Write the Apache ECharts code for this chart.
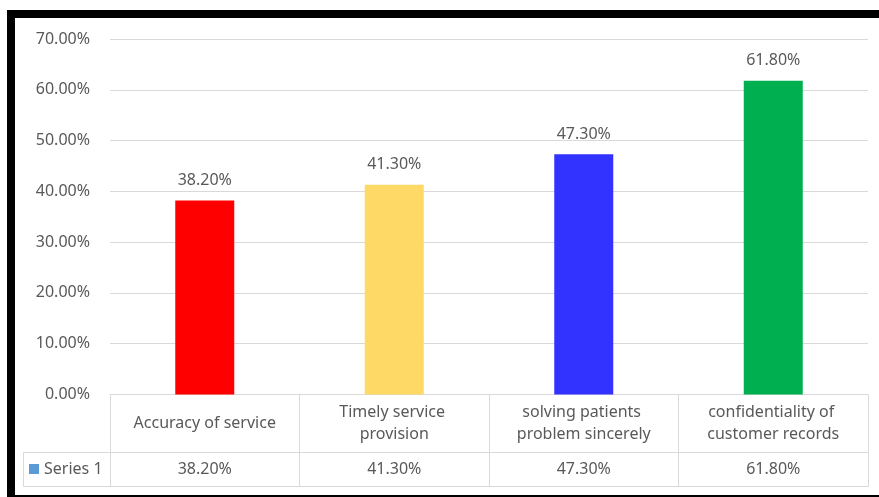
<!DOCTYPE html>
<html>
<head>
<meta charset="utf-8">
<script src="https://cdn.jsdelivr.net/npm/echarts@6/dist/echarts.min.js"></script>
<style>
  html, body { margin: 0; padding: 0; background: #fff; }
  #chart { width: 879px; height: 497px; }
</style>
</head>
<body>
<div id="chart"></div>
<script>
// data
var categories = ['Accuracy of service', 'Timely service provision', 'solving patients problem sincerely', 'confidentiality of customer records'];
var values = [38.2, 41.3, 47.3, 61.8];
var barColors = ['#ff0000', '#ffd966', '#3333ff', '#00b050'];
var seriesName = 'Series 1';
var yTicks = { min: 0, max: 70, interval: 10 };

var pct = function (v) { return v.toFixed(2) + '%'; };
var txt = '#595959';
var lineCol = '#d9d9d9';
var font = 'Noto Sans';

var chart = echarts.init(document.getElementById('chart'));

var option = {
    backgroundColor: '#fff',
    textStyle: { fontFamily: font },
    grid: { left: 110, right: 11, top: 39, bottom: 102.5 },
    legend: {
        left: 29, top: 461, padding: 0,
        icon: 'rect', itemWidth: 10, itemHeight: 10, itemGap: 5,
        textStyle: { color: txt, fontSize: 16, fontFamily: font },
        data: [seriesName]
    },
    xAxis: [{
        type: 'category',
        data: categories,
        axisLine: { lineStyle: { color: lineCol } },
        axisTick: { show: true, interval: 0, length: 92, lineStyle: { color: lineCol } },
        axisLabel: {
            interval: 0,
            color: txt, fontSize: 16, fontFamily: font,
            margin: 29, verticalAlign: 'middle',
            width: 165, overflow: 'break', lineHeight: 22
        }
    }, {
        // second table row: the values
        type: 'category',
        position: 'bottom',
        offset: 58,
        data: values.map(pct),
        axisLine: { show: false },
        axisTick: { show: false },
        axisLabel: { interval: 0, color: txt, fontSize: 16, fontFamily: font, margin: 17, verticalAlign: 'middle' }
    }],
    yAxis: {
        type: 'value',
        min: yTicks.min, max: yTicks.max, interval: yTicks.interval,
        axisLine: { show: false },
        axisTick: { show: false },
        splitLine: { lineStyle: { color: lineCol } },
        axisLabel: { color: txt, fontSize: 16, fontFamily: font, margin: 20, formatter: pct }
    },
    series: [{
        name: seriesName,
        type: 'bar',
        xAxisIndex: 0,
        barWidth: 59,
        itemStyle: { color: '#5b9bd5' },
        label: {
            show: true, position: 'top', distance: 12,
            color: txt, fontSize: 16, fontFamily: font,
            formatter: function (p) { return pct(p.value); }
        },
        data: values.map(function (v, i) {
            return { value: v, itemStyle: { color: barColors[i] } };
        })
    }],
    graphic: [
        // table outline for the series row
        { type: 'rect', z: 10, shape: { x: 23.5, y: 452.5, width: 845, height: 34 },
          style: { fill: 'none', stroke: lineCol, lineWidth: 1 } },
        // black frame
        { type: 'rect', z: 20, shape: { x: 7, y: 10, width: 872, height: 8 }, style: { fill: '#000' } },
        { type: 'rect', z: 20, shape: { x: 7, y: 10, width: 8, height: 487 }, style: { fill: '#000' } },
        { type: 'rect', z: 20, shape: { x: 7, y: 495, width: 872, height: 2 }, style: { fill: '#000' } }
    ]
};

chart.setOption(option);
</script>
</body>
</html>
